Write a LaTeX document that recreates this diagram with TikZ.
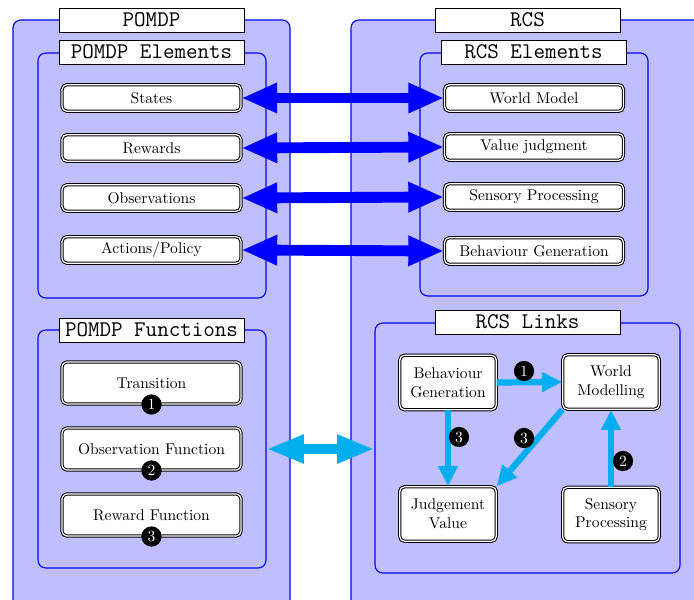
\documentclass[tikz,border=0pt]{standalone}
\usetikzlibrary{arrows.meta,fit}
\definecolor{linkcyan}{RGB}{0,174,239}
\begin{document}
\begin{tikzpicture}[x=0.643pt, y=-0.643pt,
          panel/.style={draw=blue, line width=0.7pt, fill=blue!25, rounded corners=5pt, inner sep=0pt},
          paneltitle/.style={draw, fill=white, font=\ttfamily\Large, minimum width=119pt, minimum height=15.5pt, inner sep=0pt},
          elem/.style={draw, line width=0.65pt, double, double distance=0.8pt, fill=white, rounded corners=3pt, minimum width=115pt, minimum height=17pt},
          func/.style={elem, minimum height=27pt},
          linkbox/.style={elem, align=center, minimum width=62pt, minimum height=35pt},
          badge/.style={circle, fill=black, text=white, inner sep=0pt, minimum size=13pt},
          pairarrow/.style={blue, line width=7pt, {Triangle[length=23pt,width=18pt]}-{Triangle[length=23pt,width=18pt]}},
          bigcyan/.style={linkcyan, line width=6pt, {Triangle[length=24pt,width=17pt]}-{Triangle[length=24pt,width=17pt]}},
          linkarrow/.style={linkcyan, line width=4pt, -{Triangle[length=13pt,width=12pt]}}]
        \path[use as bounding box] (0,0) rectangle (694,600);
        \clip (0,0) rectangle (694,600);
        % panels
        \node[panel, fit={(13,20) (290,640)}] (pomdp) {};
        \node[panel, fit={(351,20) (730,640)}] (rcs) {};
        \node[panel, fit={(38,53) (266,298)}] (pelems) {};
        \node[panel, fit={(420,53) (648,296)}] (relems) {};
        \node[panel, fit={(38,330) (266,568)}] (funcs) {};
        \node[panel, fit={(375,323) (680,573)}] (links) {};
        \node[paneltitle] at (151.5,20) {POMDP};
        \node[paneltitle] at (527.5,20) {RCS};
        \node[paneltitle] at (151.5,52) {POMDP Elements};
        \node[paneltitle] at (533.5,52) {RCS Elements};
        \node[paneltitle] at (151.5,330) {POMDP Functions};
        \node[paneltitle] at (527.5,322) {RCS Links};
        % elements
        \node[elem] (states) at (151.5,98) {States};
        \node[elem] (rewards) at (151.5,148) {Rewards};
        \node[elem] (obs) at (151.5,198) {Observations};
        \node[elem] (act) at (151.5,250) {Actions/Policy};
        \node[elem] (wmodel) at (534,98) {World Model};
        \node[elem] (vjudge) at (534,147) {Value judgment};
        \node[elem] (sproc) at (534,197) {Sensory Processing};
        \node[elem] (bgen) at (534,251) {Behaviour Generation};
        \draw[pairarrow] (states.east) -- (wmodel.west);
        \draw[pairarrow] (rewards.east) -- (vjudge.west);
        \draw[pairarrow] (obs.east) -- (sproc.west);
        \draw[pairarrow] (act.east) -- (bgen.west);
        % functions
        \node[func] (trans) at (151.5,383) {Transition};
        \node[func] (obsfun) at (151.5,449) {Observation Function};
        \node[func] (rewfun) at (151.5,515) {Reward Function};
        \node[badge] (tb) at (trans.south) {1};
        \node[badge] (ob) at (obsfun.south) {2};
        \node[badge] (rb) at (rewfun.south) {3};
        % links
        \node[linkbox] (lbg) at (448,382.5) {Behaviour\\Generation};
        \node[linkbox] (lwm) at (611,382) {World\\Modelling};
        \node[linkbox] (ljv) at (448,514) {Judgement\\Value};
        \node[linkbox] (lsp) at (611,514.5) {Sensory\\Processing};
        \draw[linkarrow] (lbg.east) -- (lwm.west);
        \draw[linkarrow] (lbg.south) -- (ljv.north);
        \draw[linkarrow] (lwm.south west) -- (ljv.north east);
        \draw[linkarrow] (lsp.north) -- (lwm.south);
        \node[badge] (lb1) at (524,371) {1};
        \node[badge] (lb2) at (623,461) {2};
        \node[badge] (lb3a) at (459,437) {3};
        \node[badge] (lb3b) at (524,438) {3};
        \draw[bigcyan] (funcs.east) -- (funcs.east -| links.west);
      \end{tikzpicture}
\end{document}
